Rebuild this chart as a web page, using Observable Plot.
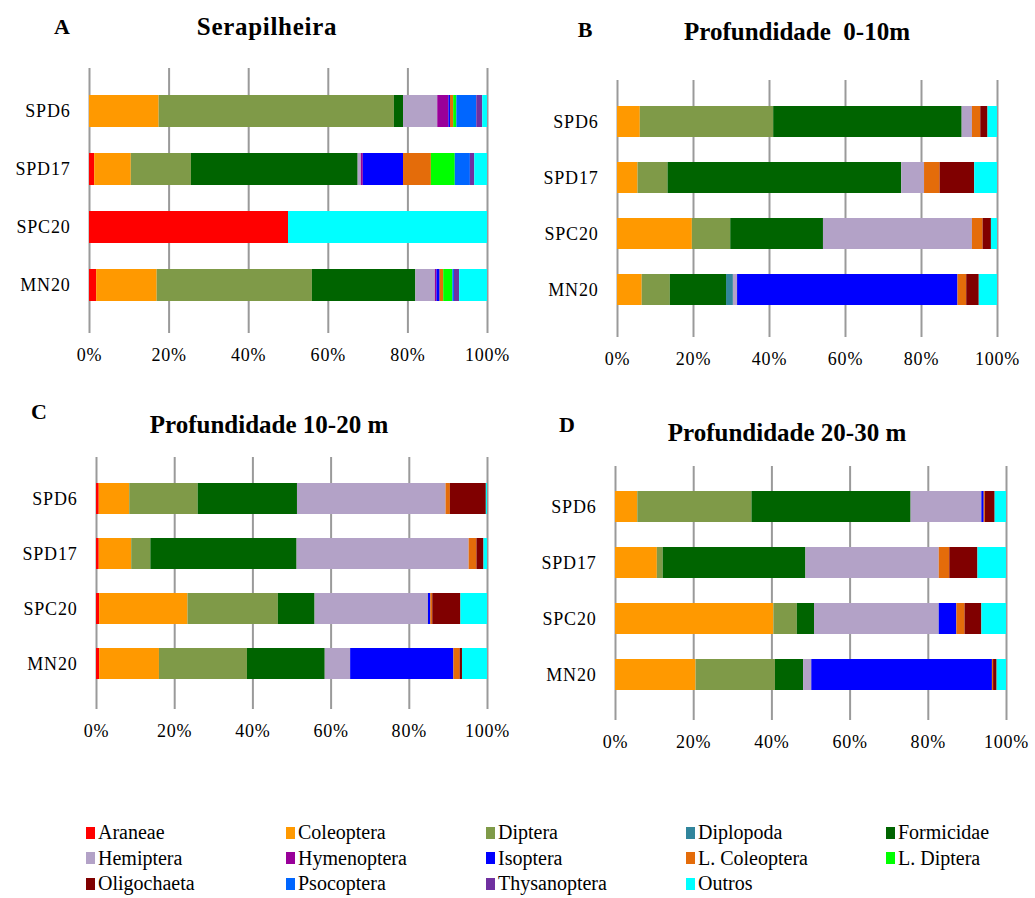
<!DOCTYPE html>
<html>
<head>
<meta charset="utf-8">
<script src="https://cdn.jsdelivr.net/npm/d3@7"></script>
<script src="https://cdn.jsdelivr.net/npm/@observablehq/plot@0.6"></script>
<style>
  body { margin: 0; background: #fff; }
  #chart { position: relative; width: 1035px; height: 898px; font-family: "Liberation Serif", "Times New Roman", serif; color: #000; overflow: hidden; }
  .panel { position: absolute; }
  .letter { position: absolute; font-weight: bold; font-size: 22px; transform: translate(-50%, -50%); }
  .title { position: absolute; font-weight: bold; font-size: 25px; white-space: pre; transform: translate(-50%, -50%); }
  .item { position: absolute; display: flex; align-items: center; font-size: 20px; white-space: pre; }
  .swatch { width: 9px; height: 12px; margin-right: 3px; flex: none; }
</style>
</head>
<body>
<div id="chart"></div>
<script>
// Sampling sites, top to bottom
const sites = ["SPD6", "SPD17", "SPC20", "MN20"];

// Taxonomic groups, in legend order
const taxa = ["Araneae", "Coleoptera", "Diptera", "Diplopoda", "Formicidae",
  "Hemiptera", "Hymenoptera", "Isoptera", "L. Coleoptera", "L. Diptera",
  "Oligochaeta", "Psocoptera", "Thysanoptera", "Outros"];

// Order in which the groups are stacked along each bar
const stackOrder = ["Araneae", "Coleoptera", "Diptera", "Formicidae", "Diplopoda",
  "Hemiptera", "Hymenoptera", "Isoptera", "L. Coleoptera", "L. Diptera",
  "Oligochaeta", "Psocoptera", "Thysanoptera", "Outros"];

const taxonColors = ["#ff0000", "#ff9900", "#7f9a48", "#31859c", "#006400",
  "#b3a2c7", "#990099", "#0000ff", "#e46c0a", "#00ff00",
  "#800000", "#0066ff", "#7030a0", "#00ffff"];

// Relative abundance (%) per site; columns follow `taxa`
const serapilheira = [
  [0, 17.5, 59.1, 0, 2.3, 8.6, 2.8, 0.4, 0.8, 0.8, 0, 5.0, 1.5, 1.2],
  [1.3, 9.2, 15.1, 0, 41.9, 0.8, 0.5, 10.1, 7.0, 6.0, 0, 3.8, 1.1, 3.2],
  [50, 0, 0, 0, 0, 0, 0, 0, 0, 0, 0, 0, 0, 50],
  [1.8, 15.2, 39.0, 0, 26.0, 4.9, 0.4, 0.8, 0.9, 2.3, 0, 0.4, 1.3, 7.0]
];
const prof0_10 = [
  [0, 6.0, 35.1, 0, 49.6, 2.7, 0, 0, 2.2, 0, 1.9, 0, 0, 2.5],
  [0, 5.4, 7.9, 0, 61.5, 6.0, 0, 0, 4.1, 0, 9.1, 0, 0, 6.0],
  [0, 19.7, 10.1, 0, 24.4, 39.2, 0, 0, 2.8, 0, 2.2, 0, 0, 1.6],
  [0, 6.5, 7.4, 1.8, 14.8, 1.1, 0, 58.0, 2.3, 0, 3.3, 0, 0, 4.8]
];
const prof10_20 = [
  [0.7, 7.8, 17.5, 0, 25.4, 38.0, 0, 0, 1.1, 0, 9.2, 0, 0, 0.3],
  [0.7, 8.3, 4.9, 0, 37.4, 44.0, 0, 0, 2.0, 0, 1.8, 0, 0, 0.9],
  [0.8, 22.6, 23.1, 0, 9.4, 29.0, 0, 0.6, 0.5, 0, 7.2, 0, 0, 6.8],
  [0.8, 15.3, 22.5, 0, 19.9, 6.5, 0, 26.4, 1.6, 0, 0.6, 0, 0, 6.4]
];
const prof20_30 = [
  [0, 5.7, 29.2, 0, 40.7, 18.1, 0, 0.6, 0.3, 0, 2.5, 0, 0, 2.9],
  [0, 10.7, 1.5, 0, 36.5, 34.1, 0, 0, 2.7, 0, 7.2, 0, 0, 7.3],
  [0, 40.5, 6.0, 0, 4.4, 31.9, 0, 4.5, 2.1, 0, 4.3, 0, 0, 6.3],
  [0, 20.6, 20.3, 0, 7.2, 2.1, 0, 46.2, 0.3, 0, 0.9, 0, 0, 2.4]
];

const xTicks = [0, 20, 40, 60, 80, 100];
const panelLetters = ["A", "B", "C", "D"];
const panelTitles = ["Serapilheira", "Profundidade  0-10m", "Profundidade 10-20 m", "Profundidade 20-30 m"];
const panelValues = [serapilheira, prof0_10, prof10_20, prof20_30];

// Placement of each panel on the page (px)
const layout = [
  {left: 0,   top: 58,  width: 515, height: 315, ml: 89, mt: 10, mb: 45, letter: [62, 27],  title: [267, 27], spacing: 0.7},
  {left: 520, top: 70,  width: 507, height: 307, ml: 97, mt: 10, mb: 45, letter: [585, 30], title: [797, 32], spacing: 0},
  {left: 0,   top: 447, width: 515, height: 302, ml: 96, mt: 10, mb: 45, letter: [39, 412], title: [269, 425], spacing: 0},
  {left: 520, top: 456, width: 515, height: 304, ml: 95, mt: 10, mb: 45, letter: [567, 425], title: [787, 433], spacing: 0}
];
const plotWidths = [398, 380, 391, 391];

const chart = document.getElementById("chart");

function tidy(values) {
  return sites.flatMap((site, i) =>
    taxa.map((taxon, j) => ({site, taxon, value: values[i][j]}))
  ).filter(d => d.value > 0);
}

panelValues.forEach((values, k) => {
  const L = layout[k];
  const plot = Plot.plot({
    width: L.width,
    height: L.height,
    marginLeft: L.ml,
    marginRight: L.width - L.ml - plotWidths[k],
    marginTop: L.mt,
    marginBottom: L.mb,
    style: {fontFamily: "'Liberation Serif', 'Times New Roman', serif", fontSize: "18px", letterSpacing: "0.8px", background: "transparent", color: "#000", overflow: "visible"},
    x: {domain: [0, 100]},
    y: {domain: sites, padding: 0.44},
    color: {domain: taxa, range: taxonColors},
    marks: [
      Plot.gridX(xTicks, {stroke: "#9a9a9a", strokeOpacity: 1, strokeWidth: 2}),
      Plot.barX(tidy(values), {x: "value", y: "site", fill: "taxon", order: stackOrder}),
      Plot.axisX({ticks: xTicks, tickFormat: d => d + "%", tickSize: 5, tickPadding: 15, stroke: "#9a9a9a", strokeWidth: 2, label: null}),
      Plot.axisY({tickSize: 0, tickPadding: 19, label: null})
    ]
  });
  const holder = document.createElement("div");
  holder.className = "panel";
  holder.style.left = L.left + "px";
  holder.style.top = L.top + "px";
  holder.appendChild(plot);
  chart.appendChild(holder);

  const letter = document.createElement("div");
  letter.className = "letter";
  letter.textContent = panelLetters[k];
  letter.style.left = L.letter[0] + "px";
  letter.style.top = L.letter[1] + "px";
  chart.appendChild(letter);

  const title = document.createElement("div");
  title.className = "title";
  title.textContent = panelTitles[k];
  title.style.left = L.title[0] + "px";
  title.style.top = L.title[1] + "px";
  title.style.letterSpacing = L.spacing + "px";
  chart.appendChild(title);
});

// Legend: five columns, filled row by row
taxa.forEach((taxon, i) => {
  const col = i % 5, row = Math.floor(i / 5);
  const item = document.createElement("div");
  item.className = "item";
  item.style.left = (86 + col * 200) + "px";
  item.style.top = (821 + row * 25.5) + "px";
  const sw = document.createElement("span");
  sw.className = "swatch";
  sw.style.background = taxonColors[i];
  item.appendChild(sw);
  item.appendChild(document.createTextNode(taxon));
  chart.appendChild(item);
});
</script>
</body>
</html>
